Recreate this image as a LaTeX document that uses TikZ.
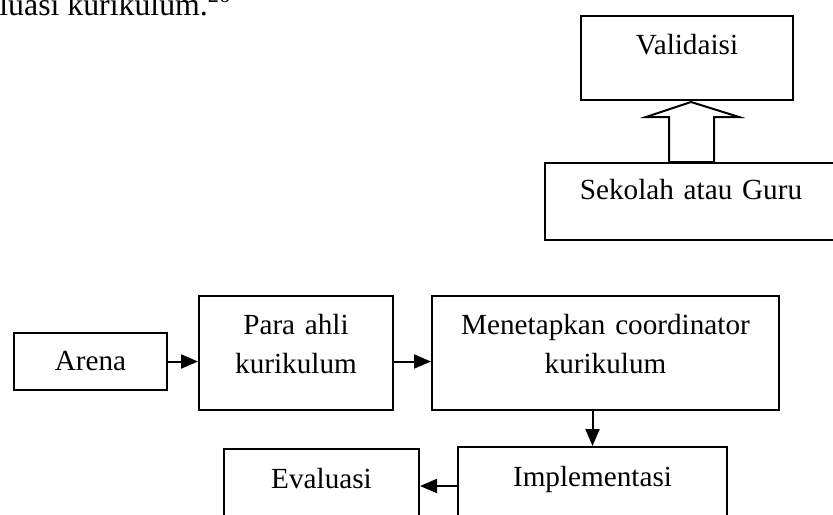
\documentclass[tikz,border=0pt]{standalone}
\usepackage{fontspec}
\setmainfont{Liberation Serif}
\usetikzlibrary{arrows.meta}

\begin{document}
\begin{tikzpicture}[x=0.5pt, y=-0.5pt,
	kotak/.style={draw, line width=1pt, inner sep=0pt, anchor=north west, align=center,
		font=\fontsize{14.6}{19.5}\selectfont},
	panah/.style={line width=1pt, -{Triangle[length=8.5pt, width=7pt]}}]
	\useasboundingbox (0,0) rectangle (833,514);

	\node[anchor=base west, inner sep=0pt, font=\fontsize{15.9}{19}\selectfont] (teks) at (-1,15) {luasi kurikulum.\textsuperscript{26}};

	\node[kotak, text width=106pt, text height=19pt, text depth=23pt] (valid) at (580,15) {Validaisi};
	\node[kotak, text width=146pt, text height=18pt, text depth=20.5pt] (sekolah) at (544,162) {Sekolah atau Guru};
	\draw[line width=1pt, fill=white] (sekolah.north) ++(-22,0) -- ++(0,-45) -- ++(-23,0) -- ++(45,-15)
		-- ++(48,15) -- ++(-25,0) -- ++(0,45) -- cycle;

	\node[kotak, text width=76.5pt, text height=18.5pt, text depth=10pt] (arena) at (13,332) {Arena};
	\node[kotak, text width=97pt, text height=19pt, text depth=38pt] (ahli) at (198,295) {Para ahli\\ kurikulum};
	\node[kotak, text width=173.5pt, text height=19pt, text depth=38pt] (koordinator) at (431,295) {Menetapkan coordinator\\ kurikulum};
	\node[kotak, text width=134.5pt, text height=19.5pt, text depth=25pt] (impl) at (457,446) {Implementasi};
	\node[kotak, text width=97.5pt, text height=19.5pt, text depth=25pt] (eval) at (223,448) {Evaluasi};

	\draw[panah] (arena.east) -- (arena.east -| ahli.west);
	\draw[panah] (ahli.east |- arena.east) -- (koordinator.west |- arena.east);
	\draw[panah] (koordinator.south -| impl.north) -- (impl.north);
	\draw[panah] (impl.base west) -- (impl.base west -| eval.east);
\end{tikzpicture}
\end{document}
